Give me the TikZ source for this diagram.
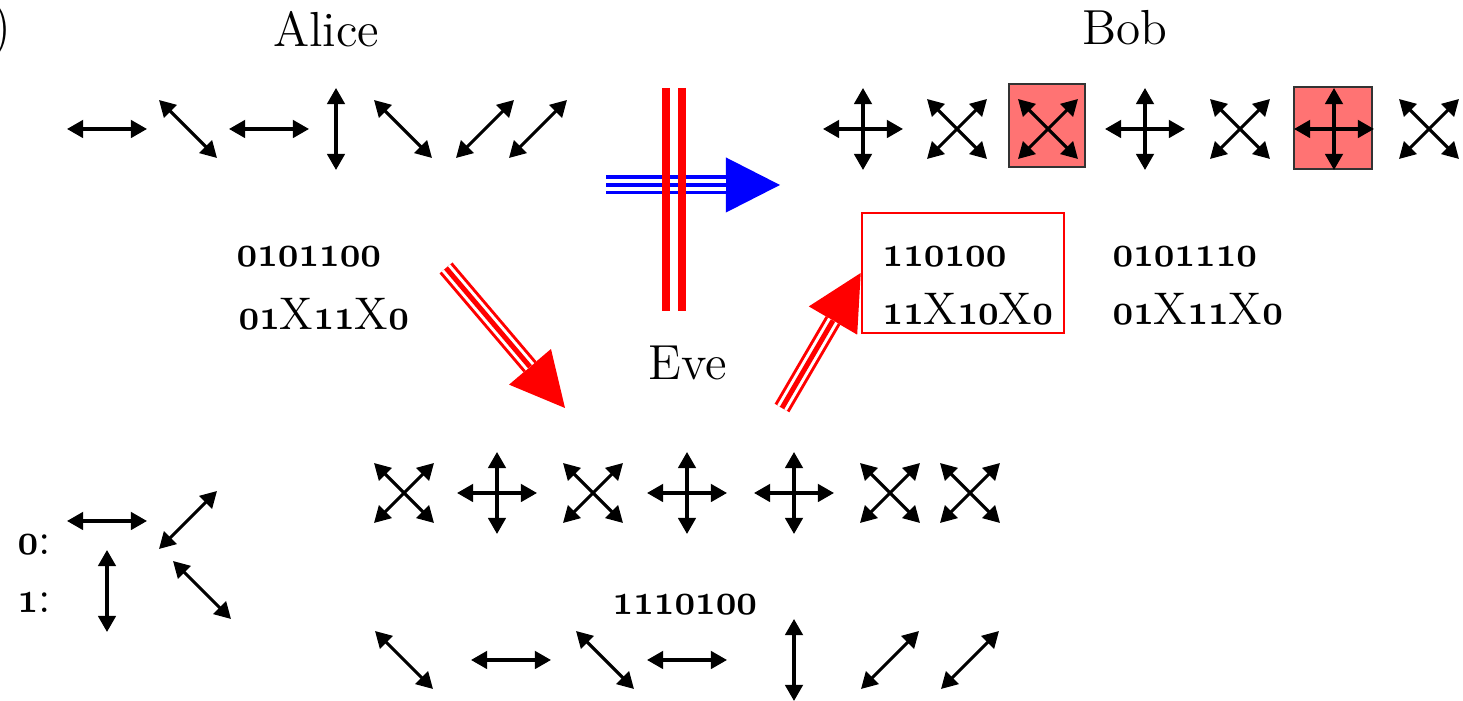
\documentclass[tikz,border=0pt]{standalone}
\usepackage{tikz}
\usetikzlibrary{arrows.meta,calc}

\definecolor{wrong}{RGB}{255,115,115}
% heavier old style figures, narrowed a little
\newcommand{\os}[1]{{\usefont{OML}{cmm}{b}{it}\scalebox{0.85}[1.05]{#1}}}

\tikzset{
  pol/.style={line width=0.9pt, {Triangle[length=4.6pt,width=5pt]}-{Triangle[length=4.6pt,width=5pt]}},
  pics/hor/.style={code={\draw[pol] (-40,0) -- (40,0);}},
  pics/ver/.style={code={\draw[pol] (0,-41) -- (0,41);}},
  pics/diag/.style={code={\draw[pol] (-29,29) -- (29,-29);}},
  pics/anti/.style={code={\draw[pol] (-29,-29) -- (29,29);}},
  pics/plus/.style={code={\draw[pol] (-40,0) -- (40,0); \draw[pol] (0,-41) -- (0,41);}},
  pics/cross/.style={code={\draw[pol] (-30,-30) -- (30,30); \draw[pol] (-30,30) -- (30,-30);}},
  who/.style={font=\fontsize{14}{16}\selectfont, inner sep=0pt, anchor=base},
  bits/.style={font=\fontsize{13}{15}\selectfont, inner sep=0pt, anchor=base west},
  hit/.style={draw=black!80, line width=0.6pt, fill=wrong},
}

\begin{document}
\begin{tikzpicture}[x=0.01cm,y=-0.01cm,line cap=butt]
\useasboundingbox (0,0) rectangle (1463,701);

% names
\node[font=\fontsize{16}{18}\selectfont, inner sep=0pt, anchor=east] (lbl) at (12,30) {)};
\node[who] (alice) at (326,47) {Alice};
\node[who] (bob) at (1125,45) {Bob};
\node[who] (eve) at (688,380) {Eve};

% Alice sends
\foreach \x/\p in {107/hor,188/anti,269/hor,336/ver,403/anti,485/diag,538/diag}
  \pic at (\x,129) {\p};
\node[bits] (abits) at (236,267) {\os{0101100}};
\node[bits] (akey) at (238,330) {\os{01}X\os{11}X\os{0}};

% Bob measures
\draw[hit] (1009,84) rectangle (1085,167);
\draw[hit] (1294,87) rectangle (1372,169);
\foreach \x/\p in {863/plus,957/cross,1048/cross,1145/plus,1240/cross,1334/plus,1429/cross}
  \pic at (\x,129) {\p};
\node[draw=red, line width=0.7pt, minimum width=2.02cm, minimum height=1.2cm] (guess) at (963,273) {};
\node[bits] (ebits) at (882,267) {\os{110100}};
\node[bits] (ekey) at (882,325) {\os{11}X\os{10}X\os{0}};
\node[bits] (bbits) at (1112,267) {\os{0101110}};
\node[bits] (bkey) at (1112,325) {\os{01}X\os{11}X\os{0}};

% Eve measures and resends
\foreach \x/\p in {404/cross,497/plus,593/cross,687/plus,794/plus,890/cross,970/cross}
  \pic at (\x,493) {\p};
\node[bits] (vbits) at (612,615) {\os{1110100}};
\foreach \x/\p in {404/anti,511/hor,605/anti,687/hor,794/ver,890/diag,970/diag}
  \pic at (\x,660) {\p};

% key: bases
\node[bits] (zero) at (17,555) {\os{0}:};
\node[bits] (one) at (17,613) {\os{1}:};
\pic at (107,521) {hor};
\pic at (107,591) {ver};
\pic at (188,520) {diag};
\pic at (202,590) {anti};

% channel
\coordinate (bs) at (606,185);
\coordinate (bt) at (780,185);
\draw[blue, line width=0.19cm, -{Triangle[length=0.54cm,width=0.55cm,line width=0pt]}] (bs) -- (bt);
\draw[white, line width=0.12cm, shorten >=0.54cm] (bs) -- (bt);
\draw[blue, line width=0.035cm, shorten >=0.54cm] (bs) -- (bt);
\draw[red, line width=0.08cm] (666,88) -- (666,311);
\draw[red, line width=0.08cm] (682,88) -- (682,311);

% Alice -> Eve
\coordinate (r1s) at (446,268);
\coordinate (r1t) at (565,408);
\draw[red, line width=0.17cm, -{Triangle[length=0.54cm,width=0.55cm,line width=0pt]}] (r1s) -- (r1t);
\draw[white, line width=0.11cm, shorten >=0.54cm] (r1s) -- (r1t);
\draw[red, line width=0.05cm, shorten >=0.54cm] (r1s) -- (r1t);

% Eve -> Bob
\coordinate (r2s) at (782,408);
\draw[red, line width=0.17cm, -{Triangle[length=0.55cm,width=0.56cm,line width=0pt]}] (r2s) -- (guess.west);
\draw[white, line width=0.11cm, shorten >=0.55cm] (r2s) -- (guess.west);
\draw[red, line width=0.05cm, shorten >=0.55cm] (r2s) -- (guess.west);
\end{tikzpicture}
\end{document}
